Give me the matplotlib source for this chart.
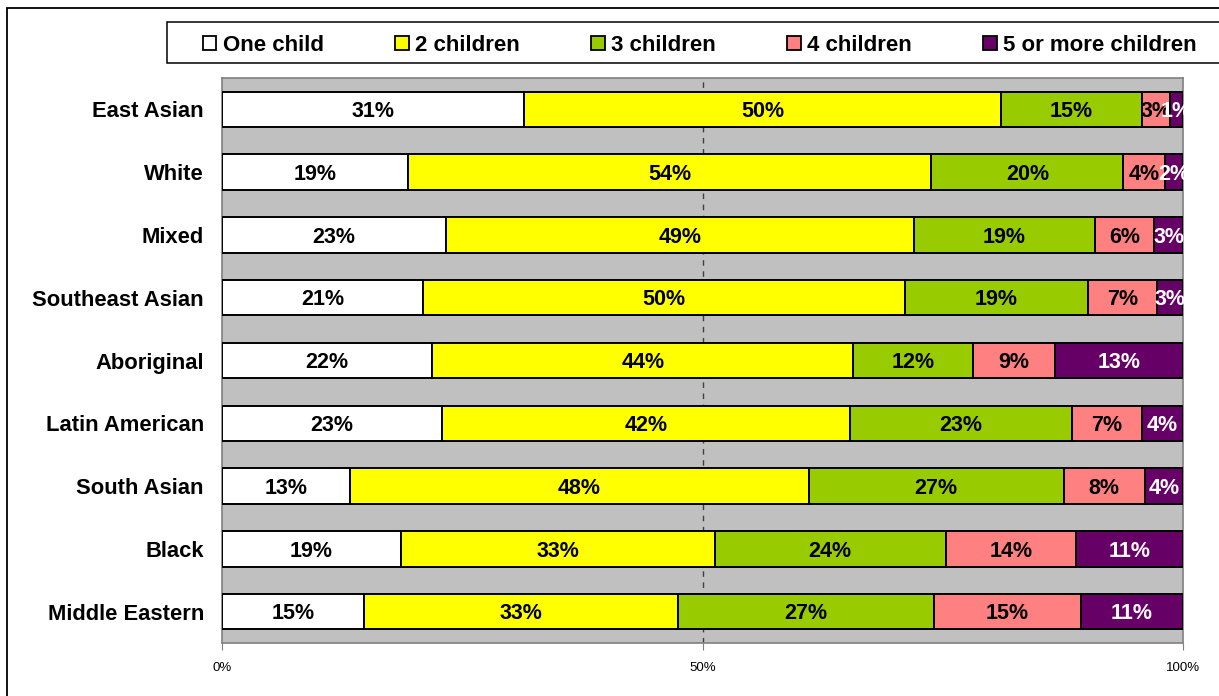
import matplotlib.pyplot as plt
import numpy as np
from matplotlib.patches import Patch, Rectangle

plt.rcParams['font.family'] = ['Liberation Sans', 'DejaVu Sans']

groups = ["East Asian", "White", "Mixed", "Southeast Asian", "Aboriginal",
          "Latin American", "South Asian", "Black", "Middle Eastern"]
series = ["One child", "2 children", "3 children", "4 children", "5 or more children"]
colors = ["#FFFFFF", "#FFFF00", "#99CC00", "#FF8080", "#660066"]
text_colors = ["black", "black", "black", "black", "white"]

# percentage share of each family size, per group
one_child = [31.4, 19.4, 23.3, 20.9, 21.9, 22.9, 13.3, 18.6, 14.8]
two_children = [49.6, 54.4, 48.6, 50.2, 43.8, 42.4, 47.8, 32.7, 32.7]
three_children = [14.6, 20.0, 18.9, 19.0, 12.4, 23.2, 26.6, 24.1, 26.6]
four_children = [2.9, 4.3, 6.1, 7.2, 8.6, 7.2, 8.4, 13.6, 15.3]
five_plus = [1.4, 1.9, 3.0, 2.7, 13.3, 4.3, 4.0, 11.1, 10.6]

data = np.array([one_child, two_children, three_children, four_children, five_plus])
shares = data / data.sum(axis=0) * 100

fig = plt.figure(figsize=(12.19, 6.96), dpi=100)
ax = fig.add_axes([222 / 1219, 1 - 643 / 696, 961 / 1219, 565 / 696])
ax.set_facecolor("#C0C0C0")

y = np.arange(len(groups))
left = np.zeros(len(groups))
for i, name in enumerate(series):
    ax.barh(y, shares[i], left=left, height=0.565, color=colors[i],
            edgecolor="black", linewidth=1.4, label=name, zorder=3)
    for j in range(len(groups)):
        ax.text(left[j] + shares[i][j] / 2, y[j] + 0.035, f"{round(data[i][j])}%",
                ha="center", va="center", fontsize=15.5, fontweight="bold",
                color=text_colors[i], zorder=4)
    left += shares[i]

ax.axvline(50, color="#404040", linestyle=(0, (4, 4)), linewidth=1, zorder=1)

ax.set_xlim(0, 100)
ax.set_ylim(len(groups) - 0.5, -0.5)
ax.set_xticks([0, 50, 100], labels=["0%", "50%", "100%"])
ax.tick_params(axis="x", length=5, color="#808080", labelsize=9.5, pad=9)
ax.set_yticks(y, labels=groups)
ax.tick_params(axis="y", length=0, labelsize=15.8, pad=13)
for lab in ax.get_yticklabels():
    lab.set_fontweight("bold")
for s in ax.spines.values():
    s.set_color("#808080")
    s.set_linewidth(1.2)

# outer chart border and legend box
fig.patches.append(Rectangle((7 / 1219, -0.1), 1.0, 1.1 - 8 / 696, transform=fig.transFigure,
                             fill=False, edgecolor="black", linewidth=1.3))
fig.patches.append(Rectangle((167 / 1219, 1 - 63 / 696), 1.0, 41 / 696,
                             transform=fig.transFigure, facecolor="white",
                             edgecolor="black", linewidth=1.1))

handles = [Patch(facecolor=c, edgecolor="black", linewidth=1.3) for c in colors]
fig.legend(handles, series, loc="center", ncol=5, mode="expand", frameon=False,
           bbox_to_anchor=(203 / 1219, 1 - 66 / 696, 994 / 1219, 41 / 696),
           prop={"size": 16, "weight": "bold"}, handlelength=0.6, handleheight=0.6,
           handletextpad=0.3, borderaxespad=0, borderpad=0)

fig.savefig("out.png", dpi=100)
